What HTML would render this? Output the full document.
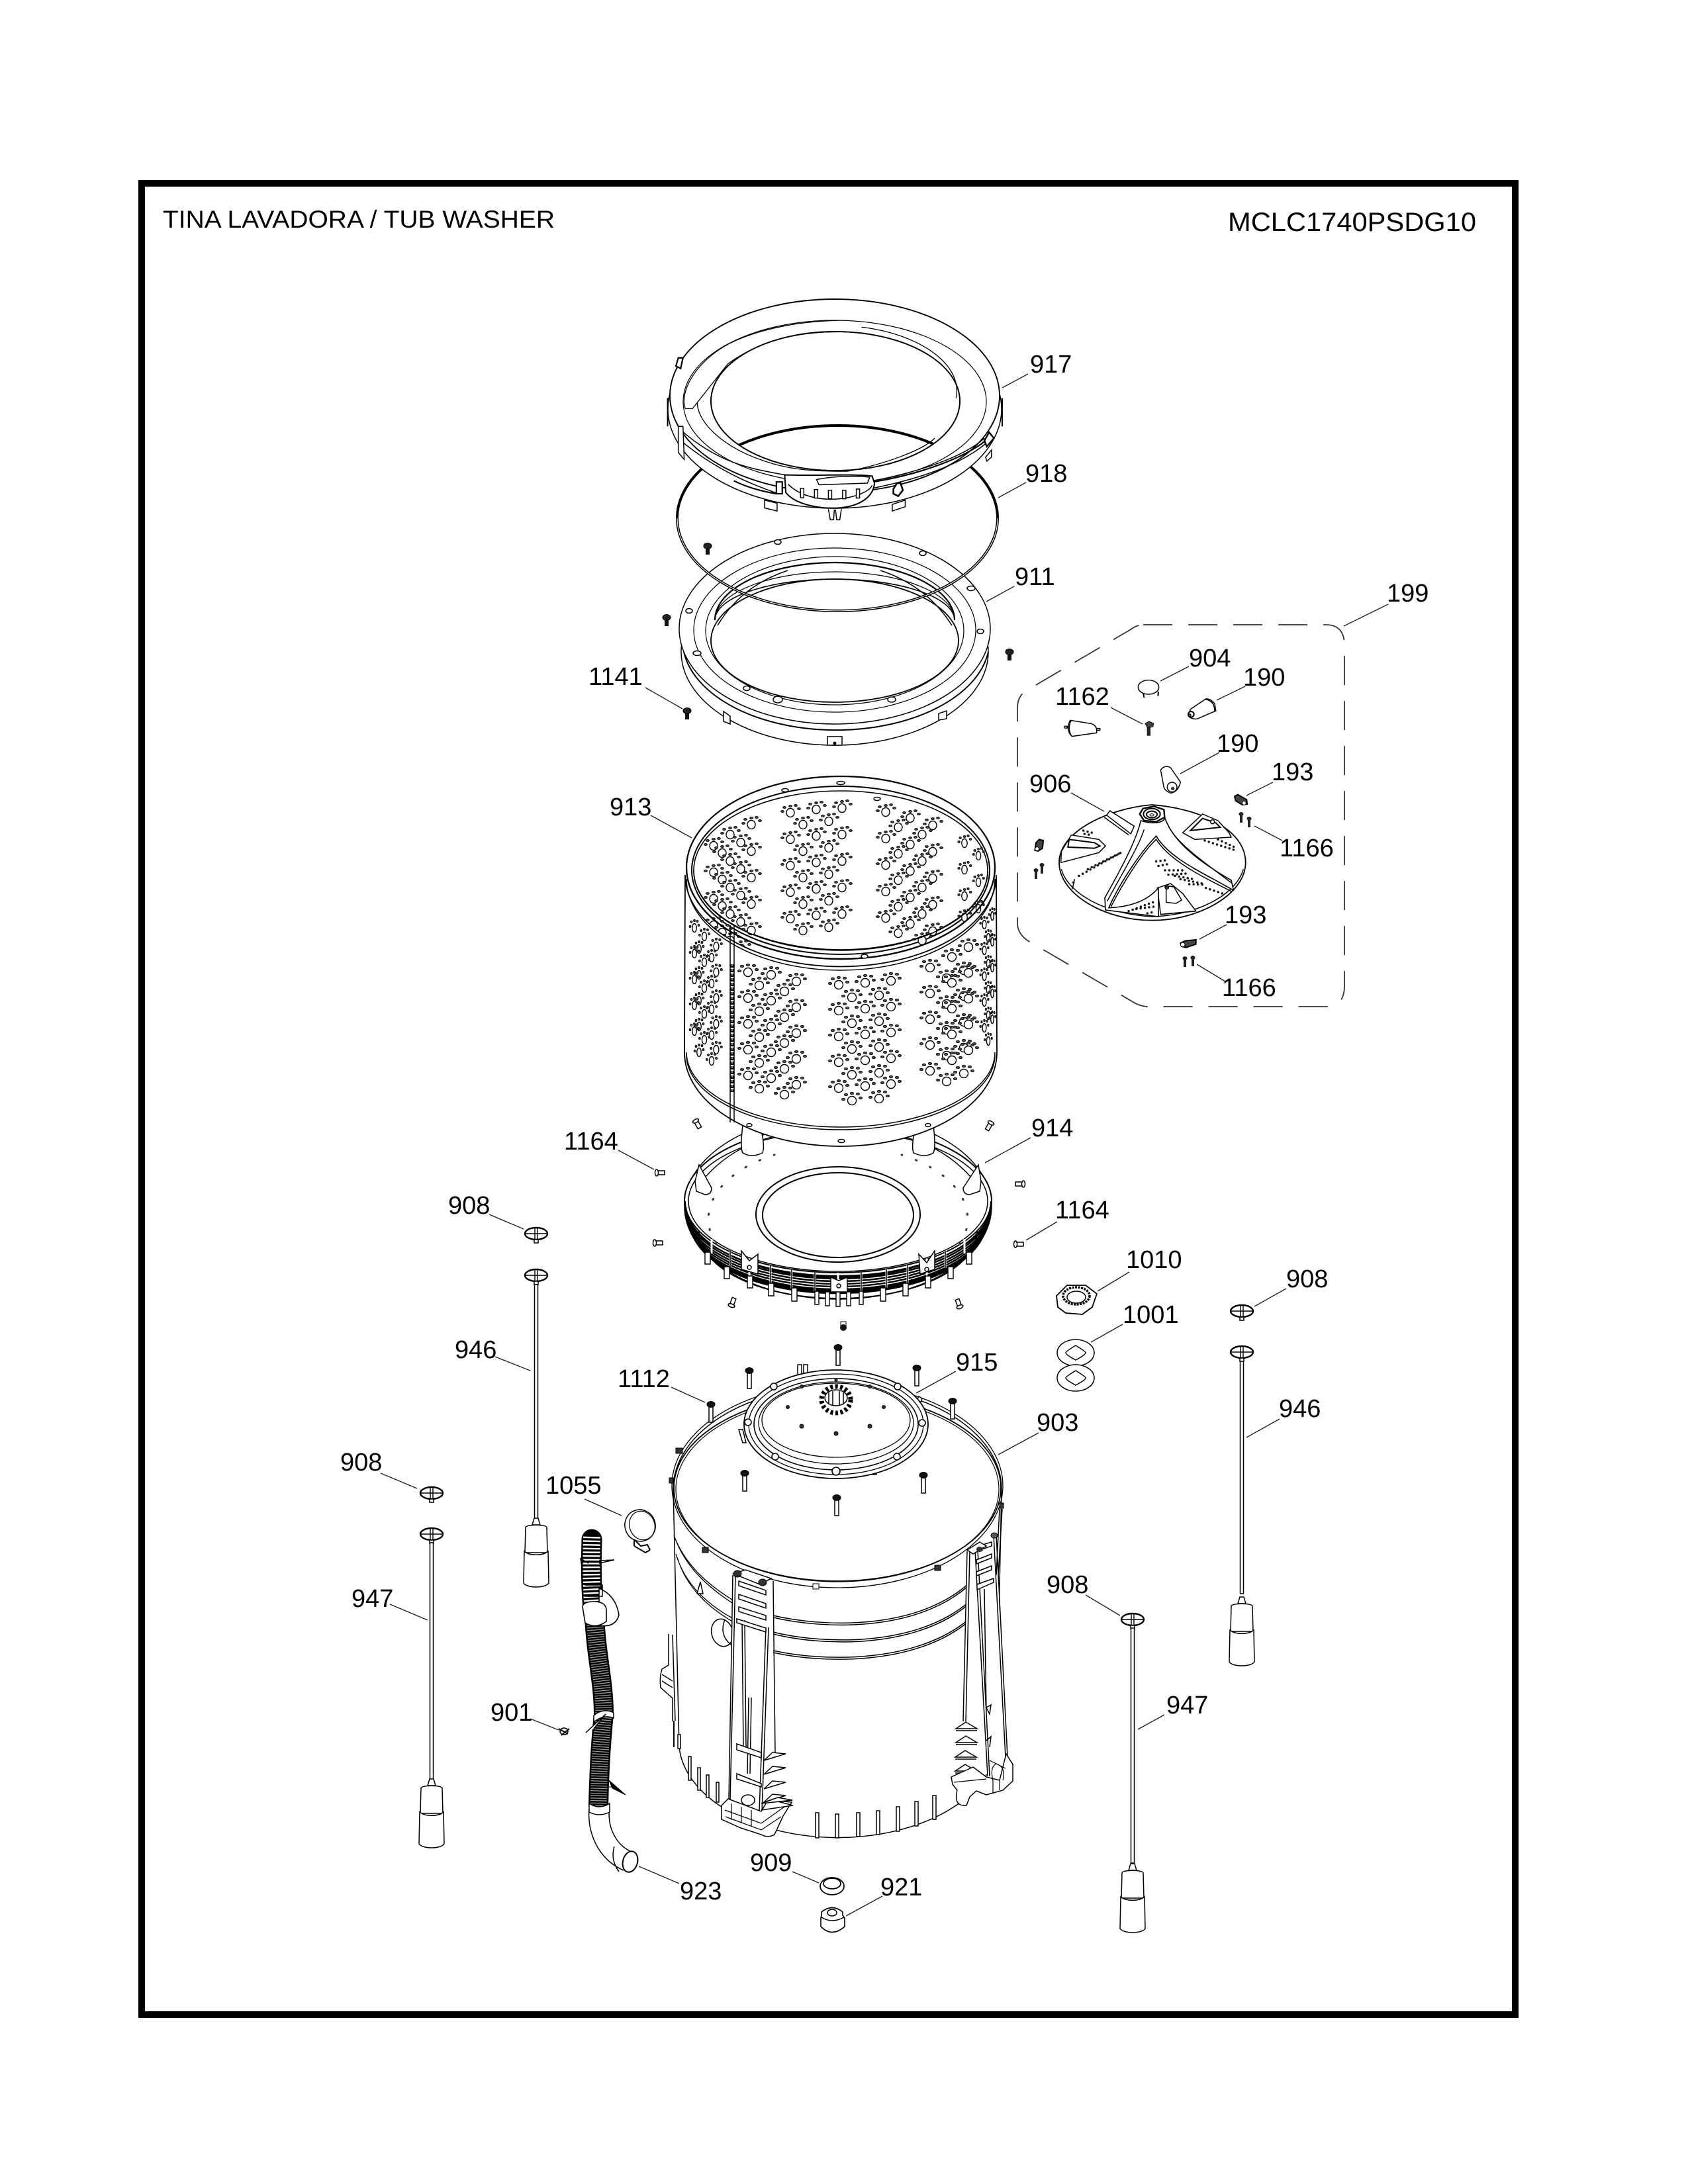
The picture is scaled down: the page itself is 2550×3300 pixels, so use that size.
<!DOCTYPE html>
<html><head><meta charset="utf-8"><title>Tub Washer</title>
<style>
html,body{margin:0;padding:0;background:#fff}
svg{display:block}
svg *{vector-effect:non-scaling-stroke}
.t{font-family:"Liberation Sans",sans-serif;font-size:38px;fill:#000}
.n{fill:none;stroke:#000;stroke-width:1.5}
.w{fill:#fff;stroke:#000;stroke-width:1.5}
.k{fill:#000;stroke:#000;stroke-width:1}
.ld{fill:none;stroke:#222;stroke-width:1.4}
</style></head><body>
<svg xmlns="http://www.w3.org/2000/svg" width="2550" height="3300" viewBox="0 0 2550 3300">
<defs>
<g id="b"><ellipse cx="0" cy="2" rx="6" ry="6.5" class="w" style="stroke-width:1.4"/>
<g fill="#666" stroke="#111" stroke-width="1.2"><ellipse cx="-12" cy="0" rx="2.3" ry="1.4"/><ellipse cx="-9" cy="-6" rx="2.3" ry="1.4"/><ellipse cx="0" cy="-8" rx="2.3" ry="1.4"/><ellipse cx="8" cy="-9" rx="2.3" ry="1.4"/><ellipse cx="13" cy="-4" rx="2.3" ry="1.4"/></g></g>
<g id="f"><ellipse cx="0" cy="2" rx="6.5" ry="6.5" class="w" style="stroke-width:1.4"/>
<g fill="#666" stroke="#111" stroke-width="1.2"><ellipse cx="-13" cy="0" rx="2.5" ry="1.5"/><ellipse cx="-9" cy="-7" rx="2.5" ry="1.5"/><ellipse cx="0" cy="-9" rx="2.5" ry="1.5"/><ellipse cx="9" cy="-8" rx="2.5" ry="1.5"/><ellipse cx="13" cy="-2" rx="2.5" ry="1.5"/></g></g>
<g id="bc1"><use href="#b" x="1194" y="1226"/><use href="#b" x="1233" y="1221"/><use href="#b" x="1272" y="1219"/><use href="#b" x="1213" y="1244"/><use href="#b" x="1252" y="1239"/></g>
<g id="bc2"><use href="#b" x="1338" y="1225"/><use href="#b" x="1375" y="1234"/><use href="#b" x="1409" y="1245"/><use href="#b" x="1357" y="1248"/><use href="#b" x="1393" y="1259"/></g>
<g id="bcL"><use href="#b" x="1078" y="1276"/><use href="#b" x="1103" y="1259"/><use href="#b" x="1135" y="1244"/><use href="#b" x="1091" y="1287"/><use href="#b" x="1119" y="1271"/></g>
<g id="bcR"><use href="#b" transform="translate(1457 1272) scale(.7 1)"/><use href="#b" transform="translate(1478 1291) scale(.6 1)"/></g>
<g id="fc1"><use href="#f" x="1130" y="1467"/><use href="#f" x="1165" y="1471"/><use href="#f" x="1203" y="1481"/><use href="#f" x="1147" y="1487"/><use href="#f" x="1185" y="1496"/></g>
<g id="fc2"><use href="#f" x="1267" y="1486"/><use href="#f" x="1307" y="1483"/><use href="#f" x="1346" y="1480"/><use href="#f" x="1287" y="1505"/><use href="#f" x="1328" y="1502"/></g>
<g id="fc3"><use href="#f" x="1405" y="1460"/><use href="#f" x="1438" y="1444"/><use href="#f" x="1463" y="1429"/><use href="#f" x="1430" y="1476"/><use href="#f" x="1456" y="1464"/></g>
<g id="fcL"><use href="#f" transform="translate(1049 1400) scale(.5 1)"/><use href="#f" transform="translate(1064 1413) scale(.55 1)"/><use href="#f" transform="translate(1082 1428) scale(.6 1)"/><use href="#f" transform="translate(1056 1432) scale(.5 1)"/><use href="#f" transform="translate(1075 1445) scale(.55 1)"/></g>
<g id="fcR"><use href="#f" transform="translate(1487 1395) scale(.45 1)"/><use href="#f" transform="translate(1499 1382) scale(.35 1)"/><use href="#f" transform="translate(1493 1415) scale(.4 1)"/></g>
<g id="s"><rect x="-3" y="0" width="6" height="13" fill="#111"/><ellipse cx="0" cy="0" rx="6" ry="4.5" fill="#222" stroke="#000"/></g>
<g id="bo"><rect x="-3" y="2" width="6" height="25" class="w"/><ellipse cx="0" cy="0" rx="6" ry="4.5" fill="#111" stroke="#000"/></g>
<g id="pin"><rect x="-5" y="-3" width="11" height="6" class="w"/><ellipse cx="-6" cy="0" rx="2.5" ry="5" class="w"/></g>
<g id="d"><ellipse cx="0" cy="0" rx="17" ry="9" fill="#fff" stroke="#000" stroke-width="2.4"/><path d="M-16 0H16M-2 -9V9M2 -9V9" stroke="#000" stroke-width="1.4" fill="none"/><rect x="-3" y="9" width="6" height="5" class="w"/></g>
<g id="w"><path d="M-3 -10L-6 0H6L3 -10Z" class="w"/><path d="M-16 4C-16 -1 16 -1 16 4L17 42H-17Z" class="w"/><path d="M-18 40C-10 47 10 47 18 40L19 88C14 96 -14 96 -19 88Z" class="w"/></g>
<g id="fin"><path d="M-12 10L20 10L3 0Z" class="w"/><path d="M-12 13H20" class="n"/></g>
<g id="fn"><path d="M0 10L33 0L13 -2Z" class="w"/></g>
<g id="sc"><rect x="-2" y="2" width="4" height="13" fill="#222"/><ellipse cx="0" cy="2" rx="3.5" ry="3" fill="#222"/></g>
</defs>
<rect width="2550" height="3300" fill="#fff"/>
<rect x="214" y="277" width="2075" height="2767" fill="#fff" stroke="#000" stroke-width="10"/>
<text class="t" x="246" y="344" style="font-size:37px" textLength="592" lengthAdjust="spacingAndGlyphs">TINA LAVADORA / TUB WASHER</text>
<text class="t" x="1855" y="349" style="font-size:40px" textLength="375" lengthAdjust="spacingAndGlyphs">MCLC1740PSDG10</text>

<!-- 911 -->
<ellipse cx="1261" cy="985" rx="232" ry="141" class="w"/>
<path d="M1033 985A232 136 0 0 0 1493 985" class="n" style="stroke-width:2"/>
<ellipse cx="1261" cy="950" rx="235" ry="144" class="w"/>
<ellipse cx="1261" cy="952" rx="213" ry="124" class="n" style="stroke-width:1.2"/>
<ellipse cx="1261" cy="953" rx="195" ry="112" class="n" style="stroke-width:1.2"/>
<ellipse cx="1261" cy="968" rx="187" ry="93" class="w" style="stroke-width:1.8"/>
<path d="M1080 937A181 87 0 0 1 1442 937" class="n" style="stroke-width:2.2"/>
<path d="M1080 937A181 73 0 0 1 1442 937" class="n" style="stroke-width:1.2"/>
<path d="M1080 937A181 62 0 0 1 1442 937" class="n" style="stroke-width:1.6"/>
<path d="M1084 945Q1120 885 1190 862M1438 945Q1400 885 1330 862" class="n"/>
<g class="w"><ellipse cx="1041" cy="923" rx="5" ry="3.5"/><ellipse cx="1394" cy="836" rx="5" ry="3.5"/><ellipse cx="1481" cy="954" rx="5" ry="3.5"/><ellipse cx="1175" cy="819" rx="5" ry="3.5"/><ellipse cx="1467" cy="889" rx="6" ry="3.5"/><ellipse cx="1053" cy="987" rx="6" ry="3.5"/><ellipse cx="1128" cy="1040" rx="5" ry="3.5"/><ellipse cx="1175" cy="1057" rx="7" ry="5"/><ellipse cx="1347" cy="1057" rx="6" ry="4"/></g>
<path d="M1093 1075V1090L1103 1094V1082ZM1418 1088V1078L1430 1074V1086Z" class="w"/>
<rect x="1250" y="1113" width="22" height="13" class="w"/><circle cx="1261" cy="1123" r="2.5" fill="#000"/>
<use href="#s" x="1069" y="825"/><use href="#s" x="1007" y="933"/><use href="#s" x="1525" y="985"/><use href="#s" x="1038" y="1074"/>

<!-- 918 -->
<ellipse cx="1265" cy="783" rx="242" ry="140" fill="none" stroke="#000" stroke-width="4"/>
<path d="M1023 783A242 140 0 0 0 1507 783" fill="none" stroke="#fff" stroke-width="1"/>

<!-- 917 -->
<path d="M1009 618a252 150 0 1 0 504 0a252 150 0 1 0 -504 0ZM1074 606a188 105 0 1 0 376 0a188 105 0 1 0 -376 0Z" fill="#fff" fill-rule="evenodd" stroke="#000" stroke-width="1.5"/>
<path d="M1012 598a249 146 0 1 0 498 0a249 146 0 1 0 -498 0ZM1074 606a188 105 0 1 0 376 0a188 105 0 1 0 -376 0Z" fill="#fff" fill-rule="evenodd" stroke="#000" stroke-width="1.9"/>
<ellipse cx="1261" cy="607" rx="229" ry="123" class="n" style="stroke-width:1.2"/>
<ellipse cx="1262" cy="606" rx="188" ry="105" class="n" style="stroke-width:1.5"/>
<g transform="translate(980 480) scale(.35714)">
<path d="M155 385C130 320 190 190 340 110C480 40 660 15 800 12M155 385L185 385L335 195C480 90 640 60 800 60M205 360C210 460 340 560 500 610C620 650 740 650 840 650C1000 620 1160 560 1210 510M1300 340C1330 200 1150 70 900 40" class="n" style="stroke-width:1.3"/>
<path d="M135 475C300 620 440 640 575 665M135 520C280 640 420 700 540 742M950 690C1150 650 1330 590 1420 510M955 720C1150 680 1330 620 1440 520" class="n"/>
<path d="M950 695C1160 660 1340 590 1425 520" class="n" style="stroke-width:2.2"/>
<path d="M360 690C420 720 480 735 540 745" class="n" style="stroke-width:2.2"/>
<path d="M575 665L580 740C620 790 720 810 800 805C890 800 950 760 955 700L945 670C850 660 700 670 575 665Z" class="w" style="stroke-width:2"/>
<path d="M710 685C780 670 880 668 935 675L925 700L720 707Z" class="w"/>
<path d="M590 705C640 755 720 770 780 768C860 765 930 740 945 710" class="n"/>
<path d="M642 722h14v40h-14zM701 727h14v36h-14zM760 730h14v36h-14zM820 730h14v36h-14zM878 725h14v38h-14z" class="w"/>
<path d="M540 695H565V745H540Z" class="w" style="stroke-width:2.2"/>
<path d="M490 770V805L543 818V785L490 772ZM1030 790V818L1085 800V772L1030 790Z" class="w"/>
<path d="M760 810L768 855H782L785 812M790 812L795 855H808L815 810" class="w"/>
<path d="M1035 725L1050 700H1065L1075 730L1055 755L1035 745Z" class="w" style="stroke-width:2.6"/>
<path d="M1420 520L1440 485L1460 510L1430 545Z" class="w" style="stroke-width:2.4"/>
<path d="M115 205L125 170H145L135 215Z" class="w" style="stroke-width:2.2"/>
<path d="M125 460L145 460L150 600L125 570Z" class="w"/>
<path d="M1425 590L1450 560V590L1430 607Z" class="w"/>
<path d="M80 460V340M1495 460V340" class="n" style="stroke-width:2"/>
</g>

<!-- Pan 914 -->
<ellipse cx="1266" cy="1823" rx="232" ry="140" class="w"/>
<ellipse cx="1266" cy="1815" rx="232" ry="115" class="w" style="stroke-width:2"/>
<ellipse cx="1266" cy="1815" rx="226" ry="106" class="n"/>
<path d="M1052 1795Q1100 1730 1180 1715M1480 1795Q1432 1730 1352 1715" class="n"/>
<path d="M1035 1815A231 108 0 0 0 1497 1815" class="n" style="stroke-width:2"/>
<path d="M1035 1820A231 108 0 0 0 1497 1820M1036 1824A230 108 0 0 0 1496 1824M1036 1828A230 108 0 0 0 1496 1828M1037 1832A229 108 0 0 0 1495 1832M1038 1836A228 108 0 0 0 1494 1836M1039 1840A227 108 0 0 0 1493 1840M1041 1844A225 106 0 0 0 1491 1844M1043 1848A223 104 0 0 0 1489 1848M1046 1852A220 102 0 0 0 1486 1852" fill="none" stroke="#000" stroke-width="2.5"/>
<path d="M1103 1889V1915M1132 1902V1930M1164 1912V1941M1196 1918V1947M1231 1922V1951M1266 1923V1952M1301 1922V1951M1339 1917V1946M1371 1911V1940M1400 1902V1930M1428 1890V1916M1075 1872V1894M1457 1872V1894" stroke="#fff" stroke-width="3" fill="none"/>
<path d="M1103 1889V1915M1164 1912V1941M1196 1918V1947M1231 1922V1951M1301 1922V1951M1339 1917V1946M1371 1911V1940M1428 1890V1916" class="n"/>
<path d="M1056 1860A210 102 0 0 0 1476 1860" class="n" style="stroke-width:2"/>
<g class="w" style="stroke-width:1.4">
<rect x="1231" y="1951" width="6" height="20"/><rect x="1247" y="1952" width="6" height="21"/><rect x="1263" y="1952" width="6" height="22"/><rect x="1279" y="1952" width="6" height="21"/><rect x="1298" y="1951" width="6" height="20"/>
<rect x="1196" y="1946" width="8" height="20"/><rect x="1161" y="1939" width="8" height="19"/><rect x="1129" y="1928" width="8" height="18"/><rect x="1094" y="1914" width="8" height="18"/><rect x="1065" y="1892" width="8" height="18"/>
<rect x="1330" y="1946" width="8" height="20"/><rect x="1364" y="1939" width="8" height="19"/><rect x="1398" y="1928" width="8" height="18"/><rect x="1432" y="1914" width="8" height="18"/><rect x="1460" y="1892" width="8" height="18"/>
</g>
<ellipse cx="1266" cy="1835" rx="124" ry="72" class="n" style="stroke-width:2"/>
<ellipse cx="1266" cy="1836" rx="114" ry="64" class="n" style="stroke-width:2"/>
<path d="M1050 1785L1056 1760L1075 1795Q1075 1805 1065 1805L1052 1800ZM1482 1785L1478 1760L1455 1795Q1455 1805 1465 1805L1480 1800Z" class="w"/>
<path d="M1120 1890L1132 1905L1145 1895V1925L1120 1918ZM1255 1930L1267 1935L1280 1930V1952H1255ZM1388 1895L1400 1908L1412 1890V1918L1390 1925Z" class="w"/>
<circle cx="1132" cy="1915" r="3" class="w"/><circle cx="1267" cy="1943" r="3" class="w"/><circle cx="1400" cy="1918" r="3" class="w"/>
<path d="M1082 1880A190 110 0 0 1 1170 1745M1450 1880A190 110 0 0 0 1362 1745" fill="none" stroke="#333" stroke-width="3" stroke-dasharray="1.5 22" stroke-linecap="round"/>
<path d="M1122 1700Q1118 1735 1122 1742Q1135 1750 1152 1742Q1156 1730 1148 1700ZM1384 1700Q1376 1730 1380 1742Q1397 1750 1410 1742Q1414 1735 1410 1700Z" class="w"/>
<use href="#pin" x="998" y="1772"/><use href="#pin" transform="translate(1540 1789) rotate(180)"/><use href="#pin" x="995" y="1878"/><use href="#pin" transform="translate(1540 1880)"/>
<use href="#pin" transform="translate(1054 1699) rotate(60)"/><use href="#pin" transform="translate(1494 1702) rotate(120)"/><use href="#pin" transform="translate(1107 1967) rotate(-70)"/><use href="#pin" transform="translate(1448 1969) rotate(-110)"/>
<rect x="1270" y="1997" width="8" height="8" fill="#fff" stroke="#000"/><ellipse cx="1274" cy="2006" rx="5" ry="5" fill="#111"/>

<!-- Drum 913 -->
<ellipse cx="1270" cy="1311" rx="233" ry="138" class="w" style="stroke-width:2.2"/>
<ellipse cx="1270" cy="1315" rx="225" ry="127" class="n" style="stroke-width:2"/>
<ellipse cx="1270" cy="1315" rx="222" ry="120" class="n" style="stroke-width:1.6"/>
<use href="#bc1"/><use href="#bc1" y="40"/><use href="#bc1" y="80"/><use href="#bc1" y="120"/><use href="#bc1" y="160"/>
<use href="#bc2"/><use href="#bc2" y="40"/><use href="#bc2" y="80"/><use href="#bc2" y="120"/><use href="#bc2" y="160"/>
<use href="#bcL"/><use href="#bcL" y="40"/><use href="#bcL" y="80"/><use href="#bcL" y="120"/><use href="#bcL" y="160"/>
<use href="#bcR"/><use href="#bcR" y="40"/><use href="#bcR" y="80"/><use href="#bcR" y="112"/>
<path d="M1035 1322A234 138 0 0 0 1505 1322L1506 1590A236 142 0 0 1 1034 1590Z" class="w" style="stroke-width:1.8"/>
<path d="M1037 1311A233 138 0 0 0 1503 1311" class="n" style="stroke-width:2.2"/>
<path d="M1048 1316A222 120 0 0 0 1492 1316" class="n" style="stroke-width:1.6"/>
<path d="M1037 1328A233 138 0 0 0 1503 1328" class="n"/>
<path d="M1037 1590A233 113 0 0 0 1503 1590" class="n" style="stroke-width:1.5"/>
<path d="M1037 1594A233 113 0 0 0 1503 1594" class="n"/>
<path d="M1103 1398V1696M1109 1398V1696" class="n"/>
<path d="M1106 1457V1650" fill="none" stroke="#000" stroke-width="7" stroke-dasharray="5 2"/>
<path d="M1106 1457V1650" fill="none" stroke="#888" stroke-width="2" stroke-dasharray="3 4"/>
<ellipse cx="1270" cy="1183" rx="6" ry="2.5" class="w"/><ellipse cx="1325" cy="1207" rx="5" ry="2.5" class="w"/><ellipse cx="1186" cy="1194" rx="5" ry="2.5" class="w"/><ellipse cx="1306" cy="1445" rx="5" ry="3" class="w"/><ellipse cx="1132" cy="1700" rx="4" ry="2.5" class="w"/><ellipse cx="1271" cy="1724" rx="5" ry="2.5" class="w"/><ellipse cx="1402" cy="1700" rx="4" ry="2.5" class="w"/>
<use href="#fc1"/><use href="#fc1" y="39"/><use href="#fc1" y="78"/><use href="#fc1" y="117"/><use href="#fc1" y="156"/>
<use href="#fc2"/><use href="#fc2" y="39"/><use href="#fc2" y="78"/><use href="#fc2" y="117"/><use href="#fc2" y="156"/>
<use href="#fc3"/><use href="#fc3" y="39"/><use href="#fc3" y="78"/><use href="#fc3" y="117"/><use href="#fc3" y="156"/>
<use href="#fcL"/><use href="#fcL" y="39"/><use href="#fcL" y="78"/><use href="#fcL" y="117"/><use href="#fcL" y="156"/>
<use href="#fcR"/><use href="#fcR" y="39"/><use href="#fcR" y="78"/><use href="#fcR" y="117"/><use href="#fcR" y="156"/>

<!-- Tub 903 -->
<path d="M1017 2250L1026 2640A240 146 0 0 0 1505 2640L1513 2250A248 155 0 0 0 1017 2250Z" class="w"/>
<ellipse cx="1265" cy="2248" rx="247" ry="141" class="w" style="stroke-width:1.8"/>
<ellipse cx="1265" cy="2245" rx="250" ry="154" class="n" style="stroke-width:1.3"/>
<ellipse cx="1265" cy="2250" rx="244" ry="140" class="n" style="stroke-width:1.2"/>
<path d="M1018 2320C1035 2365 1070 2395 1109 2419M1021 2348C1035 2395 1070 2425 1108 2446M1020 2325C1037 2370 1072 2400 1109 2424M1023 2353C1037 2400 1072 2430 1108 2451" class="n" style="stroke-width:1.3"/>
<path d="M1168 2441C1240 2458 1380 2465 1462 2394M1168 2444C1240 2461 1380 2468 1462 2397M1168 2466C1240 2484 1380 2490 1462 2422M1168 2469C1240 2487 1380 2493 1462 2425M1168 2494C1240 2510 1380 2515 1462 2448M1168 2497C1240 2513 1380 2518 1462 2451" class="n" style="stroke-width:1.5"/>
<ellipse cx="1091" cy="2467" rx="16" ry="21" transform="rotate(-15 1091 2467)" class="w"/>
<path d="M1095 2447Q1086 2470 1104 2485" class="n"/>
<path d="M1010 2469V2516L1000 2522Q996 2535 998 2550L1016 2566V2601M1016 2470L1020 2600" class="n"/>
<path d="M1000 2530L1016 2540M1000 2540L1016 2550" class="n"/>
<path d="M1018 2600V2640" class="n" style="stroke-width:2"/>
<path d="M1053 2408L1058 2390L1062 2408Z" class="w"/>
<g class="w">
<rect x="1024" y="2621" width="4" height="21"/><rect x="1040" y="2654" width="4" height="36"/><rect x="1054" y="2671" width="4" height="34"/><rect x="1067" y="2682" width="4" height="34"/><rect x="1082" y="2693" width="4" height="30"/>
<rect x="1232" y="2739" width="5" height="38"/><rect x="1262" y="2741" width="5" height="36"/><rect x="1294" y="2739" width="5" height="36"/><rect x="1324" y="2736" width="5" height="36"/><rect x="1354" y="2730" width="5" height="37"/><rect x="1382" y="2722" width="5" height="37"/><rect x="1409" y="2713" width="5" height="36"/>
</g>
<!-- left bracket -->
<path d="M1107 2382L1097 2720L1112 2724L1147 2737L1168 2648L1168 2390L1116 2375Z" fill="#fff"/>
<path d="M1107 2380L1101 2719M1111 2380L1103 2719M1168 2389L1171 2648M1157 2459L1147 2737M1161 2459L1151 2737M1121 2448L1123 2641M1125 2448L1127 2641M1131 2565L1129 2680M1135 2565L1133 2680" class="n"/>
<path d="M1116 2389L1157 2403L1157 2410L1116 2396ZM1116 2409L1157 2423L1157 2430L1116 2416ZM1116 2428L1157 2441L1157 2448L1116 2435ZM1113 2446L1157 2460L1157 2466L1113 2452Z" class="w" style="stroke-width:1.5"/>
<path d="M1108 2378L1126 2372L1165 2385L1148 2394Z" class="w"/>
<ellipse cx="1114" cy="2378" rx="6" ry="5" fill="#333" stroke="#000"/><ellipse cx="1152" cy="2391" rx="6" ry="5" fill="#333" stroke="#000"/>
<path d="M1113 2635L1150 2648V2656L1113 2644ZM1113 2680L1150 2695V2700L1113 2688Z" class="w"/>
<path d="M1090 2728L1090 2749L1119 2762L1150 2772Q1160 2778 1170 2772L1183 2744L1196 2723L1160 2720L1150 2737L1100 2718Z" class="w"/>
<path d="M1095 2735L1150 2755L1185 2730M1096 2745L1150 2765L1180 2745" class="n" style="stroke-width:1.2"/>
<ellipse cx="1130" cy="2720" rx="10" ry="8" class="w"/>
<path d="M1105 2725V2750M1120 2730V2755M1135 2735V2760" class="n" style="stroke-width:1.2"/>
<use href="#fn" x="1154" y="2650"/><use href="#fn" x="1154" y="2671"/><use href="#fn" x="1154" y="2693"/><use href="#fn" x="1154" y="2713"/>
<path d="M1150 2725L1197 2720L1175 2716ZM1150 2735L1198 2728L1175 2722" class="w"/>
<!-- right bracket -->
<path d="M1461 2344L1455 2601L1492 2684L1519 2655L1505 2320L1475 2330Z" fill="#fff"/>
<path d="M1461 2344L1455 2601M1465 2344L1459 2601M1473 2342L1492 2684M1477 2342L1495 2684M1487 2401L1490 2590M1501 2319L1519 2655M1505 2319L1522 2655M1510 2280L1505 2380M1514 2280L1508 2380" class="n"/>
<path d="M1475 2337L1498 2330V2336L1475 2344ZM1475 2357L1498 2348V2354L1475 2363ZM1475 2375L1498 2366V2372L1475 2381ZM1476 2394L1501 2385V2391L1476 2402Z" class="w" style="stroke-width:1.5"/>
<path d="M1461 2342L1480 2330L1490 2336L1470 2348Z" class="w"/><ellipse cx="1480" cy="2341" rx="5" ry="4" fill="#333"/><ellipse cx="1502" cy="2320" rx="5" ry="4" fill="#555" stroke="#000"/>
<use href="#fin" x="1456" y="2602"/><use href="#fin" x="1456" y="2623"/><use href="#fin" x="1455" y="2645"/><use href="#fin" x="1455" y="2666"/>
<path d="M1437 2685L1470 2670L1490 2685L1510 2690L1520 2650L1530 2666L1530 2691L1515 2705L1490 2712L1475 2706L1465 2715L1460 2728Q1440 2730 1446 2705L1439 2696Z" class="w"/>
<path d="M1441 2693L1490 2688M1495 2660L1519 2672M1500 2690Q1495 2670 1505 2665Q1520 2670 1515 2690M1500 2690V2710M1510 2688V2705" class="n" style="stroke-width:1.2"/>
<path d="M1490 2580L1497 2576L1495 2590ZM1490 2630L1497 2624L1495 2640" class="n"/>
<!-- tub clips -->
<g class="k" style="fill:#333"><rect x="1061" y="2338" width="9" height="8"/><rect x="1228" y="2393" width="9" height="8" style="fill:#fff"/><rect x="1412" y="2365" width="9" height="8"/><rect x="1021" y="2188" width="10" height="8"/><rect x="1011" y="2233" width="6" height="8"/><rect x="1510" y="2271" width="6" height="8"/></g>

<!-- Mount 915 -->
<path d="M1205 2078h6v-16h-6zM1214 2078h6v-16h-6zM1380 2125l8 -15l5 3l-6 15zM1116 2160l6 20h5l-5 -20zM1308 2228v-14h6v14zM1318 2228v-14h6v14z" class="w"/>
<ellipse cx="1263" cy="2152" rx="139" ry="82" class="w" style="stroke-width:1.8"/>
<ellipse cx="1263" cy="2152" rx="132" ry="76" class="n" style="stroke-width:1.3"/>
<ellipse cx="1263" cy="2152" rx="124" ry="69" class="n" style="stroke-width:1.6"/>
<ellipse cx="1263" cy="2146" rx="112" ry="56" class="n" style="stroke-width:1.3"/>
<ellipse cx="1263" cy="2150" rx="117" ry="62" class="n" style="stroke-width:1.3"/>
<g fill="#fff" stroke="#000" stroke-width="1.6"><circle cx="1169" cy="2095" r="5"/><circle cx="1356" cy="2095" r="5"/><circle cx="1130" cy="2149" r="5"/><circle cx="1393" cy="2150" r="5"/><circle cx="1171" cy="2201" r="5"/><circle cx="1355" cy="2201" r="5"/><circle cx="1263" cy="2223" r="6"/></g>
<g fill="#333" stroke="#000"><circle cx="1211" cy="2095" r="2.5"/><circle cx="1314" cy="2095" r="2.5"/><circle cx="1190" cy="2126" r="2.5"/><circle cx="1335" cy="2126" r="2.5"/><circle cx="1211" cy="2155" r="3"/><circle cx="1314" cy="2155" r="3"/><circle cx="1263" cy="2166" r="3"/><circle cx="1263" cy="2085" r="2"/></g>
<ellipse cx="1263" cy="2115" rx="22" ry="20" fill="#fff" stroke="#000" stroke-width="7" stroke-dasharray="4 3.5"/>
<ellipse cx="1263" cy="2112" rx="17" ry="12" class="w"/>
<path d="M1252 2104V2122M1258 2102V2124M1268 2102V2124M1274 2104V2122" class="n"/>
<use href="#bo" x="1266" y="2036"/><use href="#bo" x="1132" y="2071"/><use href="#bo" x="1385" y="2067"/><use href="#bo" x="1074" y="2122"/><use href="#bo" x="1439" y="2117"/><use href="#bo" x="1125" y="2226"/><use href="#bo" x="1395" y="2229"/><use href="#bo" x="1264" y="2263"/>

<!-- nut, washers -->
<path d="M1596 1958L1612 1942L1640 1942L1657 1955L1650 1975L1635 1986L1610 1984L1598 1975Z" class="w" style="stroke-width:1.8"/>
<ellipse cx="1626" cy="1958" rx="20" ry="13" fill="#fff" stroke="#000" stroke-width="3.5" stroke-dasharray="3 1.5"/>
<ellipse cx="1626" cy="1960" rx="14" ry="9" class="w"/>
<path d="M1598 1975L1610 1984L1635 1986L1650 1975" class="n"/>
<ellipse cx="1625" cy="2044" rx="28" ry="20" class="w"/><path d="M1610 2044Q1610 2042 1625 2033Q1640 2042 1640 2044Q1640 2047 1625 2055Q1610 2047 1610 2044Z" class="w"/>
<ellipse cx="1625" cy="2082" rx="28" ry="20" class="w"/><path d="M1610 2082Q1610 2080 1625 2071Q1640 2080 1640 2082Q1640 2085 1625 2093Q1610 2085 1610 2082Z" class="w"/>
<ellipse cx="1257" cy="2850" rx="18" ry="13" class="w" style="stroke-width:1.8"/><ellipse cx="1257" cy="2846" rx="13" ry="8" class="n" style="stroke-width:1.8"/>
<path d="M1241 2894V2889Q1257 2876 1273 2889V2894L1276 2898V2911Q1257 2928 1240 2911V2898Z" class="w" style="stroke-width:1.6"/><ellipse cx="1257" cy="2890" rx="7" ry="5" class="w"/><path d="M1241 2897Q1257 2907 1275 2897" class="n"/>

<!-- hose 923 -->
<path d="M905 2735C903 2770 920 2800 948 2812" fill="none" stroke="#000" stroke-width="32"/>
<path d="M905 2735C903 2770 920 2800 948 2812" fill="none" stroke="#fff" stroke-width="29"/>
<ellipse cx="952" cy="2813" rx="11" ry="16" transform="rotate(15 952 2813)" class="w" style="stroke-width:2"/>
<path d="M928 2790Q922 2810 935 2828" class="n"/>
<path d="M898 2440C900 2500 912 2540 912 2590C908 2630 905 2670 904 2730" fill="none" stroke="#000" stroke-width="30"/>
<path d="M898 2440C900 2500 912 2540 912 2590C908 2630 905 2670 904 2730" fill="none" stroke="#999" stroke-width="25" stroke-dasharray="1.3 2.4"/>
<path d="M894 2326C893 2360 893 2400 896 2430" fill="none" stroke="#000" stroke-width="31" stroke-linecap="round"/>
<path d="M894 2322C893 2360 893 2400 896 2430" fill="none" stroke="#fff" stroke-width="26" stroke-dasharray="2.4 3.2"/>
<path d="M905 2400Q930 2410 935 2440Q930 2460 905 2456Z" class="w" style="stroke-width:1.6"/>
<path d="M880 2428Q881 2420 897 2420Q915 2420 916 2432V2450Q900 2462 884 2452Z" class="w" style="stroke-width:1.6"/>
<path d="M880 2372L877 2355L889 2362M905 2358L928 2357L905 2362M884 2395H910V2412H884" class="n"/>
<path d="M897 2592Q912 2580 927 2588V2596Q912 2590 897 2602ZM897 2612L915 2590L885 2618" class="w"/>
<path d="M890 2725Q905 2735 921 2725V2738Q905 2746 890 2738Z" class="w"/>
<path d="M920 2690L945 2712L925 2702ZM918 2700H932" class="k"/>
<!-- clamp 1055 -->
<ellipse cx="967" cy="2305" rx="23" ry="24" class="w" transform="rotate(-20 967 2305)" style="stroke-width:1.5"/>
<ellipse cx="970" cy="2305" rx="19" ry="22" class="n" transform="rotate(-20 970 2305)" style="stroke-width:1.2"/>
<path d="M958 2326L968 2336L978 2334L982 2342M958 2336L975 2346L982 2342M958 2326V2336" class="n" style="stroke-width:2"/>
<!-- 901 -->
<ellipse cx="852" cy="2616" rx="6" ry="5" class="w"/><path d="M844 2612L858 2620M848 2622L860 2612" class="n" style="stroke-width:2"/>

<!-- rods -->
<use href="#d" x="810" y="1864"/><use href="#d" x="810" y="1927"/><rect x="807.500" y="1941" width="5" height="356" class="w"/><use href="#w" x="810" y="2304"/>
<use href="#d" x="652" y="2256"/><use href="#d" x="652" y="2318"/><rect x="649.500" y="2331" width="5" height="360" class="w"/><use href="#w" x="652" y="2698"/>
<use href="#d" x="1876" y="1981"/><use href="#d" x="1876" y="2043"/><rect x="1873.500" y="2057" width="5" height="351" class="w"/><use href="#w" x="1876" y="2423"/>
<use href="#d" x="1711" y="2447"/><rect x="1708.500" y="2460" width="5" height="355" class="w"/><use href="#w" x="1711" y="2826"/>

<!-- 199 dashed box -->
<path d="M1727 944H2003Q2031 944 2031 975V1490Q2031 1521 2003 1521H1735Q1722 1521 1710 1513L1552 1421Q1537 1410 1537 1395V1070Q1537 1050 1553 1042L1710 950Q1718 944 1727 944Z" fill="none" stroke="#333" stroke-width="1.8" stroke-dasharray="44 24"/>

<!-- pulsator and parts -->
<g transform="translate(1520 920) scale(.33333)">
<path d="M240 1150C240 1010 460 905 660 888C880 905 1085 1000 1085 1150C1085 1290 880 1412 662 1412C440 1412 240 1290 240 1150Z" class="w" style="stroke-width:1.8"/>
<path d="M250 1180C280 1290 450 1385 662 1395C860 1390 1040 1300 1075 1180" class="n"/>
<path d="M455 935L470 915L580 985L565 1020ZM445 945L555 1025" class="w"/>
<path d="M248 1150L250 1100L295 1025L420 1045L450 1075L420 1105Z" class="w"/>
<path d="M285 1045L400 1060L425 1075L400 1085L280 1080Z" class="w" style="stroke-width:2"/>
<path d="M800 1015L890 930L960 960L1010 1015L1020 1035L855 1045Z" class="w"/>
<path d="M835 1005L890 950L950 970L970 990Z" class="w" style="stroke-width:2"/>
<path d="M685 1265L745 1245L800 1290L860 1370L700 1385Z" class="w"/>
<path d="M725 1255L760 1260L795 1320L770 1335L725 1330Z" class="w"/>
<circle cx="728" cy="1262" r="9" fill="#333" stroke="#000"/><circle cx="935" cy="965" r="9" class="w"/>
<path d="M610 960C590 1050 520 1180 447 1310L450 1365L690 1395L690 1265C660 1300 600 1350 465 1355C520 1230 620 1090 680 1030C740 1130 880 1190 1020 1270L1030 1275L1020 1230C880 1150 760 1060 720 950C700 980 640 970 610 960Z" class="w" style="stroke-width:1.6"/>
<path d="M625 1000C600 1080 530 1190 458 1325M735 985C780 1070 900 1150 1025 1245M475 1350C530 1240 620 1100 680 1045C740 1140 880 1210 1020 1280" class="n"/>
<path d="M605 930L620 905L670 895L715 910L718 945L680 965L625 960Z" class="w" style="stroke-width:2.4"/>
<ellipse cx="660" cy="930" rx="38" ry="25" class="n" style="stroke-width:2"/><ellipse cx="660" cy="932" rx="24" ry="15" class="n" style="stroke-width:2"/><ellipse cx="660" cy="934" rx="9" ry="5" fill="#fff" stroke="#000"/>
<path d="M300 1270L310 1225M860 1370L700 1385" class="n"/>
<g fill="none" stroke="#111" stroke-width="3.5" stroke-linecap="round" stroke-dasharray="0 6.5"><path d="M680 1145L720 1140M690 1165L745 1155M720 1185L800 1185M735 1205L815 1200M765 1210L850 1225M790 1225L890 1245M830 1248L905 1250M905 1265L980 1290M555 1370L665 1330M590 1360L670 1350M640 1380L665 1375M900 1050L1040 1095M960 1045L1035 1080M350 1005L390 1015M355 1020L385 1025M330 1210L530 1100M370 1180L510 1110M305 1240L320 1235"/></g>
<!-- 904 cap -->
<path d="M620 375L625 402M690 375L688 395M600 365L615 378" class="n" style="stroke-width:2"/>
<ellipse cx="645" cy="355" rx="47" ry="32" class="w"/>
<!-- 190 top -->
<path d="M835 455L905 408Q925 405 945 430L950 462L870 497Q845 505 825 485Z" class="w"/><circle cx="838" cy="478" r="13" class="w" style="stroke-width:2"/><circle cx="832" cy="482" r="5" class="n"/>
<path d="M900 410Q945 415 945 465" class="n"/>
<!-- 190 left -->
<path d="M290 505L385 520Q415 530 410 562L298 578Q268 550 290 505Z" class="w"/><path d="M265 540h12v-8h-12zM410 550h15v-8h-15zM295 505Q275 545 298 578" class="n"/>
<!-- 190 mid -->
<path d="M700 730Q720 705 745 720L790 785Q780 830 745 835Q720 825 715 810Z" class="w"/><ellipse cx="752" cy="808" rx="22" ry="22" class="n"/><circle cx="755" cy="815" r="6" fill="#444" stroke="#000"/>
<!-- 1162 -->
<rect x="638" y="535" width="16" height="40" fill="#222"/><path d="M630 520L648 510L668 520L665 535L640 538Z" fill="#444" stroke="#000"/>
<!-- 193 -->
<path d="M1035 850L1050 842L1090 865L1092 885L1070 888L1040 870Z" fill="#444" stroke="#000" stroke-width="2"/><circle cx="1078" cy="880" r="9" fill="#fff" stroke="#000"/>
<path d="M790 1515L810 1505L860 1500L860 1520L815 1535L795 1530Z" fill="#444" stroke="#000" stroke-width="2"/><circle cx="800" cy="1522" r="10" fill="#fff" stroke="#000"/>
<path d="M130 1095L135 1060L150 1045L168 1050L165 1085L145 1098Z" fill="#444" stroke="#000" stroke-width="2"/><circle cx="140" cy="1088" r="9" fill="#fff" stroke="#000"/>
</g>
<use href="#sc" x="1875" y="1228"/><use href="#sc" x="1887" y="1235"/><use href="#sc" x="1574" y="1305"/><use href="#sc" x="1565" y="1313"/><use href="#sc" x="1790" y="1446"/><use href="#sc" x="1802" y="1445"/>

<!-- leaders -->
<path class="ld" d="M1553 565L1514 586M1550 729L1508 752M1532 886L1490 909M2097 913L2030 946M975 1039L1031 1071M1796 1007L1753 1029M1881 1037L1838 1058M1678 1069L1726 1094M1842 1137L1783 1169M1923 1182L1883 1202M1618 1198L1668 1226M1937 1270L1895 1248M1853 1397L1812 1419M1851 1483L1808 1457M983 1232L1045 1266M1557 1719L1488 1757M934 1738L988 1767M1597 1846L1550 1874M1706 1922L1658 1951M1696 2001L1648 2028M1444 2072L1384 2105M1569 2165L1508 2198M1014 2096L1065 2119M883 2265L939 2290M739 1835L791 1857M748 2050L801 2071M575 2226L630 2249M589 2424L646 2448M801 2597L844 2614M1026 2846L965 2820M1197 2828L1237 2845M1333 2865L1278 2895M1640 2410L1692 2441M1759 2591L1719 2613M1943 1947L1895 1974M1933 2144L1883 2172"/>

<!-- labels -->
<text class="t" x="1556" y="563">917</text><text class="t" x="1549" y="728">918</text><text class="t" x="1533" y="884">911</text><text class="t" x="2095" y="909">199</text><text class="t" x="889" y="1035">1141</text>
<text class="t" x="1796" y="1007">904</text><text class="t" x="1878" y="1036">190</text><text class="t" x="1594" y="1065">1162</text><text class="t" x="1838" y="1136">190</text><text class="t" x="1921" y="1179">193</text><text class="t" x="1555" y="1197">906</text><text class="t" x="1933" y="1294">1166</text><text class="t" x="1850" y="1395">193</text><text class="t" x="1846" y="1505">1166</text>
<text class="t" x="921" y="1232">913</text><text class="t" x="1558" y="1717">914</text><text class="t" x="852" y="1737">1164</text><text class="t" x="1594" y="1841">1164</text><text class="t" x="1701" y="1916">1010</text><text class="t" x="1696" y="1999">1001</text><text class="t" x="1444" y="2071">915</text><text class="t" x="1566" y="2162">903</text><text class="t" x="933" y="2096">1112</text><text class="t" x="824" y="2257">1055</text>
<text class="t" x="677" y="1834">908</text><text class="t" x="687" y="2052">946</text><text class="t" x="514" y="2222">908</text><text class="t" x="531" y="2428">947</text><text class="t" x="741" y="2600">901</text><text class="t" x="1027" y="2870">923</text><text class="t" x="1133" y="2827">909</text><text class="t" x="1330" y="2864">921</text><text class="t" x="1581" y="2407">908</text><text class="t" x="1762" y="2589">947</text><text class="t" x="1943" y="1945">908</text><text class="t" x="1932" y="2141">946</text>
</svg>
</body></html>
